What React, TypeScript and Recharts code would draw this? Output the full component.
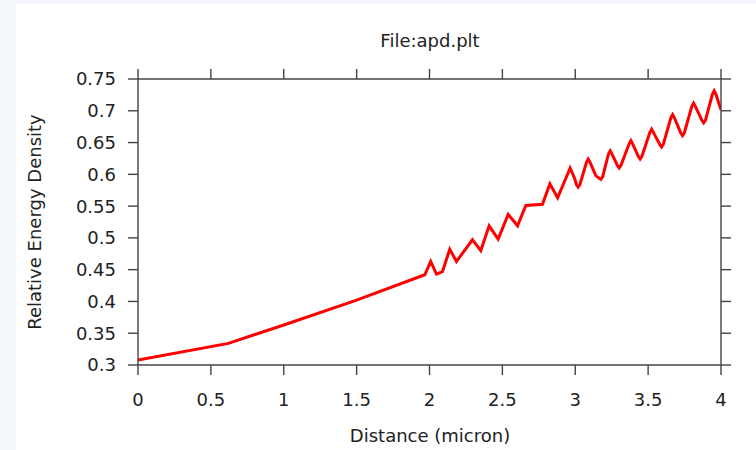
import { LineChart, Line, XAxis, YAxis } from "recharts";

const distance = [
  0, 0.62, 1.0, 1.5, 1.968, 2.008, 2.048, 2.089, 2.139, 2.185, 2.295, 2.352,
  2.409, 2.471, 2.54, 2.604, 2.661, 2.775, 2.826, 2.879, 2.965, 2.995, 3.008,
  3.02, 3.032, 3.077, 3.089, 3.101, 3.141, 3.164, 3.176, 3.188, 3.228, 3.24,
  3.252, 3.289, 3.301, 3.313, 3.37, 3.382, 3.394, 3.433, 3.445, 3.457, 3.512,
  3.524, 3.536, 3.58, 3.592, 3.604, 3.656, 3.668, 3.68, 3.724, 3.736, 3.748,
  3.8, 3.812, 3.824, 3.869, 3.881, 3.893, 3.941, 3.953, 3.965, 4.0,
];

const energy = [
  0.308, 0.334, 0.363, 0.402, 0.442, 0.463, 0.443, 0.447, 0.482, 0.463, 0.497,
  0.48, 0.519, 0.498, 0.537, 0.519, 0.551, 0.553, 0.585, 0.563, 0.61, 0.594,
  0.584, 0.58, 0.584, 0.619, 0.624, 0.619, 0.598, 0.594, 0.592, 0.596, 0.632,
  0.637, 0.632, 0.614, 0.61, 0.614, 0.648, 0.653, 0.648, 0.628, 0.624, 0.628,
  0.666, 0.671, 0.666, 0.647, 0.643, 0.647, 0.689, 0.694, 0.689, 0.665, 0.661,
  0.665, 0.707, 0.712, 0.707, 0.685, 0.681, 0.685, 0.726, 0.7315, 0.726, 0.7016,
];

const xTicks = [0, 0.5, 1, 1.5, 2, 2.5, 3, 3.5, 4];
const yTicks = [0.3, 0.35, 0.4, 0.45, 0.5, 0.55, 0.6, 0.65, 0.7, 0.75];

const data = distance.map((d, i) => ({ d, e: energy[i] }));

const font = "'DejaVu Sans', sans-serif";
const axisColor = "#444";
const tickText = { fontSize: 18, fill: "#222", fontFamily: font };
const blank = () => "";

export default function App() {
  return (
    <div style={{ position: "absolute", left: 0, top: 0, width: 756, height: 450, background: "#f3f7fc" }}>
      <div style={{ position: "absolute", left: 16, top: 4, right: 0, bottom: 0, background: "#fff" }} />
      <div style={{ position: "absolute", left: 0, top: 0 }}>
        <LineChart width={756} height={450} data={data} margin={{ top: 59, right: 15, bottom: 35, left: 78 }}>
          <XAxis
            xAxisId="b"
            dataKey="d"
            type="number"
            domain={[0, 4]}
            ticks={xTicks}
            allowDataOverflow
            height={50}
            tickSize={10}
            tickMargin={18}
            tick={tickText}
            stroke={axisColor}
            strokeWidth={1.4}
          />
          <XAxis
            xAxisId="t"
            orientation="top"
            dataKey="d"
            type="number"
            domain={[0, 4]}
            ticks={xTicks}
            allowDataOverflow
            height={20}
            tickSize={10}
            tickFormatter={blank}
            stroke={axisColor}
            strokeWidth={1.4}
          />
          <YAxis
            yAxisId="l"
            type="number"
            domain={[0.3, 0.75]}
            ticks={yTicks}
            allowDataOverflow
            width={60}
            tickSize={10}
            tickMargin={12}
            tick={tickText}
            stroke={axisColor}
            strokeWidth={1.4}
          />
          <YAxis
            yAxisId="r"
            orientation="right"
            type="number"
            domain={[0.3, 0.75]}
            ticks={yTicks}
            allowDataOverflow
            width={20}
            tickSize={10}
            tickFormatter={blank}
            stroke={axisColor}
            strokeWidth={1.4}
          />
          <Line
            xAxisId="b"
            yAxisId="l"
            type="linear"
            dataKey="e"
            stroke="#ff0000"
            strokeWidth={3}
            dot={false}
            isAnimationActive={false}
          />
        </LineChart>
      </div>
      <div style={{ position: "absolute", left: 330, width: 200, top: 30, textAlign: "center", fontFamily: font, fontSize: 18, color: "#222", lineHeight: "22px" }}>
        File:apd.plt
      </div>
      <div style={{ position: "absolute", left: 280, width: 300, top: 425, textAlign: "center", fontFamily: font, fontSize: 18, color: "#222", lineHeight: "22px" }}>
        Distance (micron)
      </div>
      <div style={{ position: "absolute", left: 35 - 150, width: 300, top: 222 - 11, textAlign: "center", fontFamily: font, fontSize: 18, color: "#222", lineHeight: "22px", transform: "rotate(-90deg)" }}>
        Relative Energy Density
      </div>
    </div>
  );
}
